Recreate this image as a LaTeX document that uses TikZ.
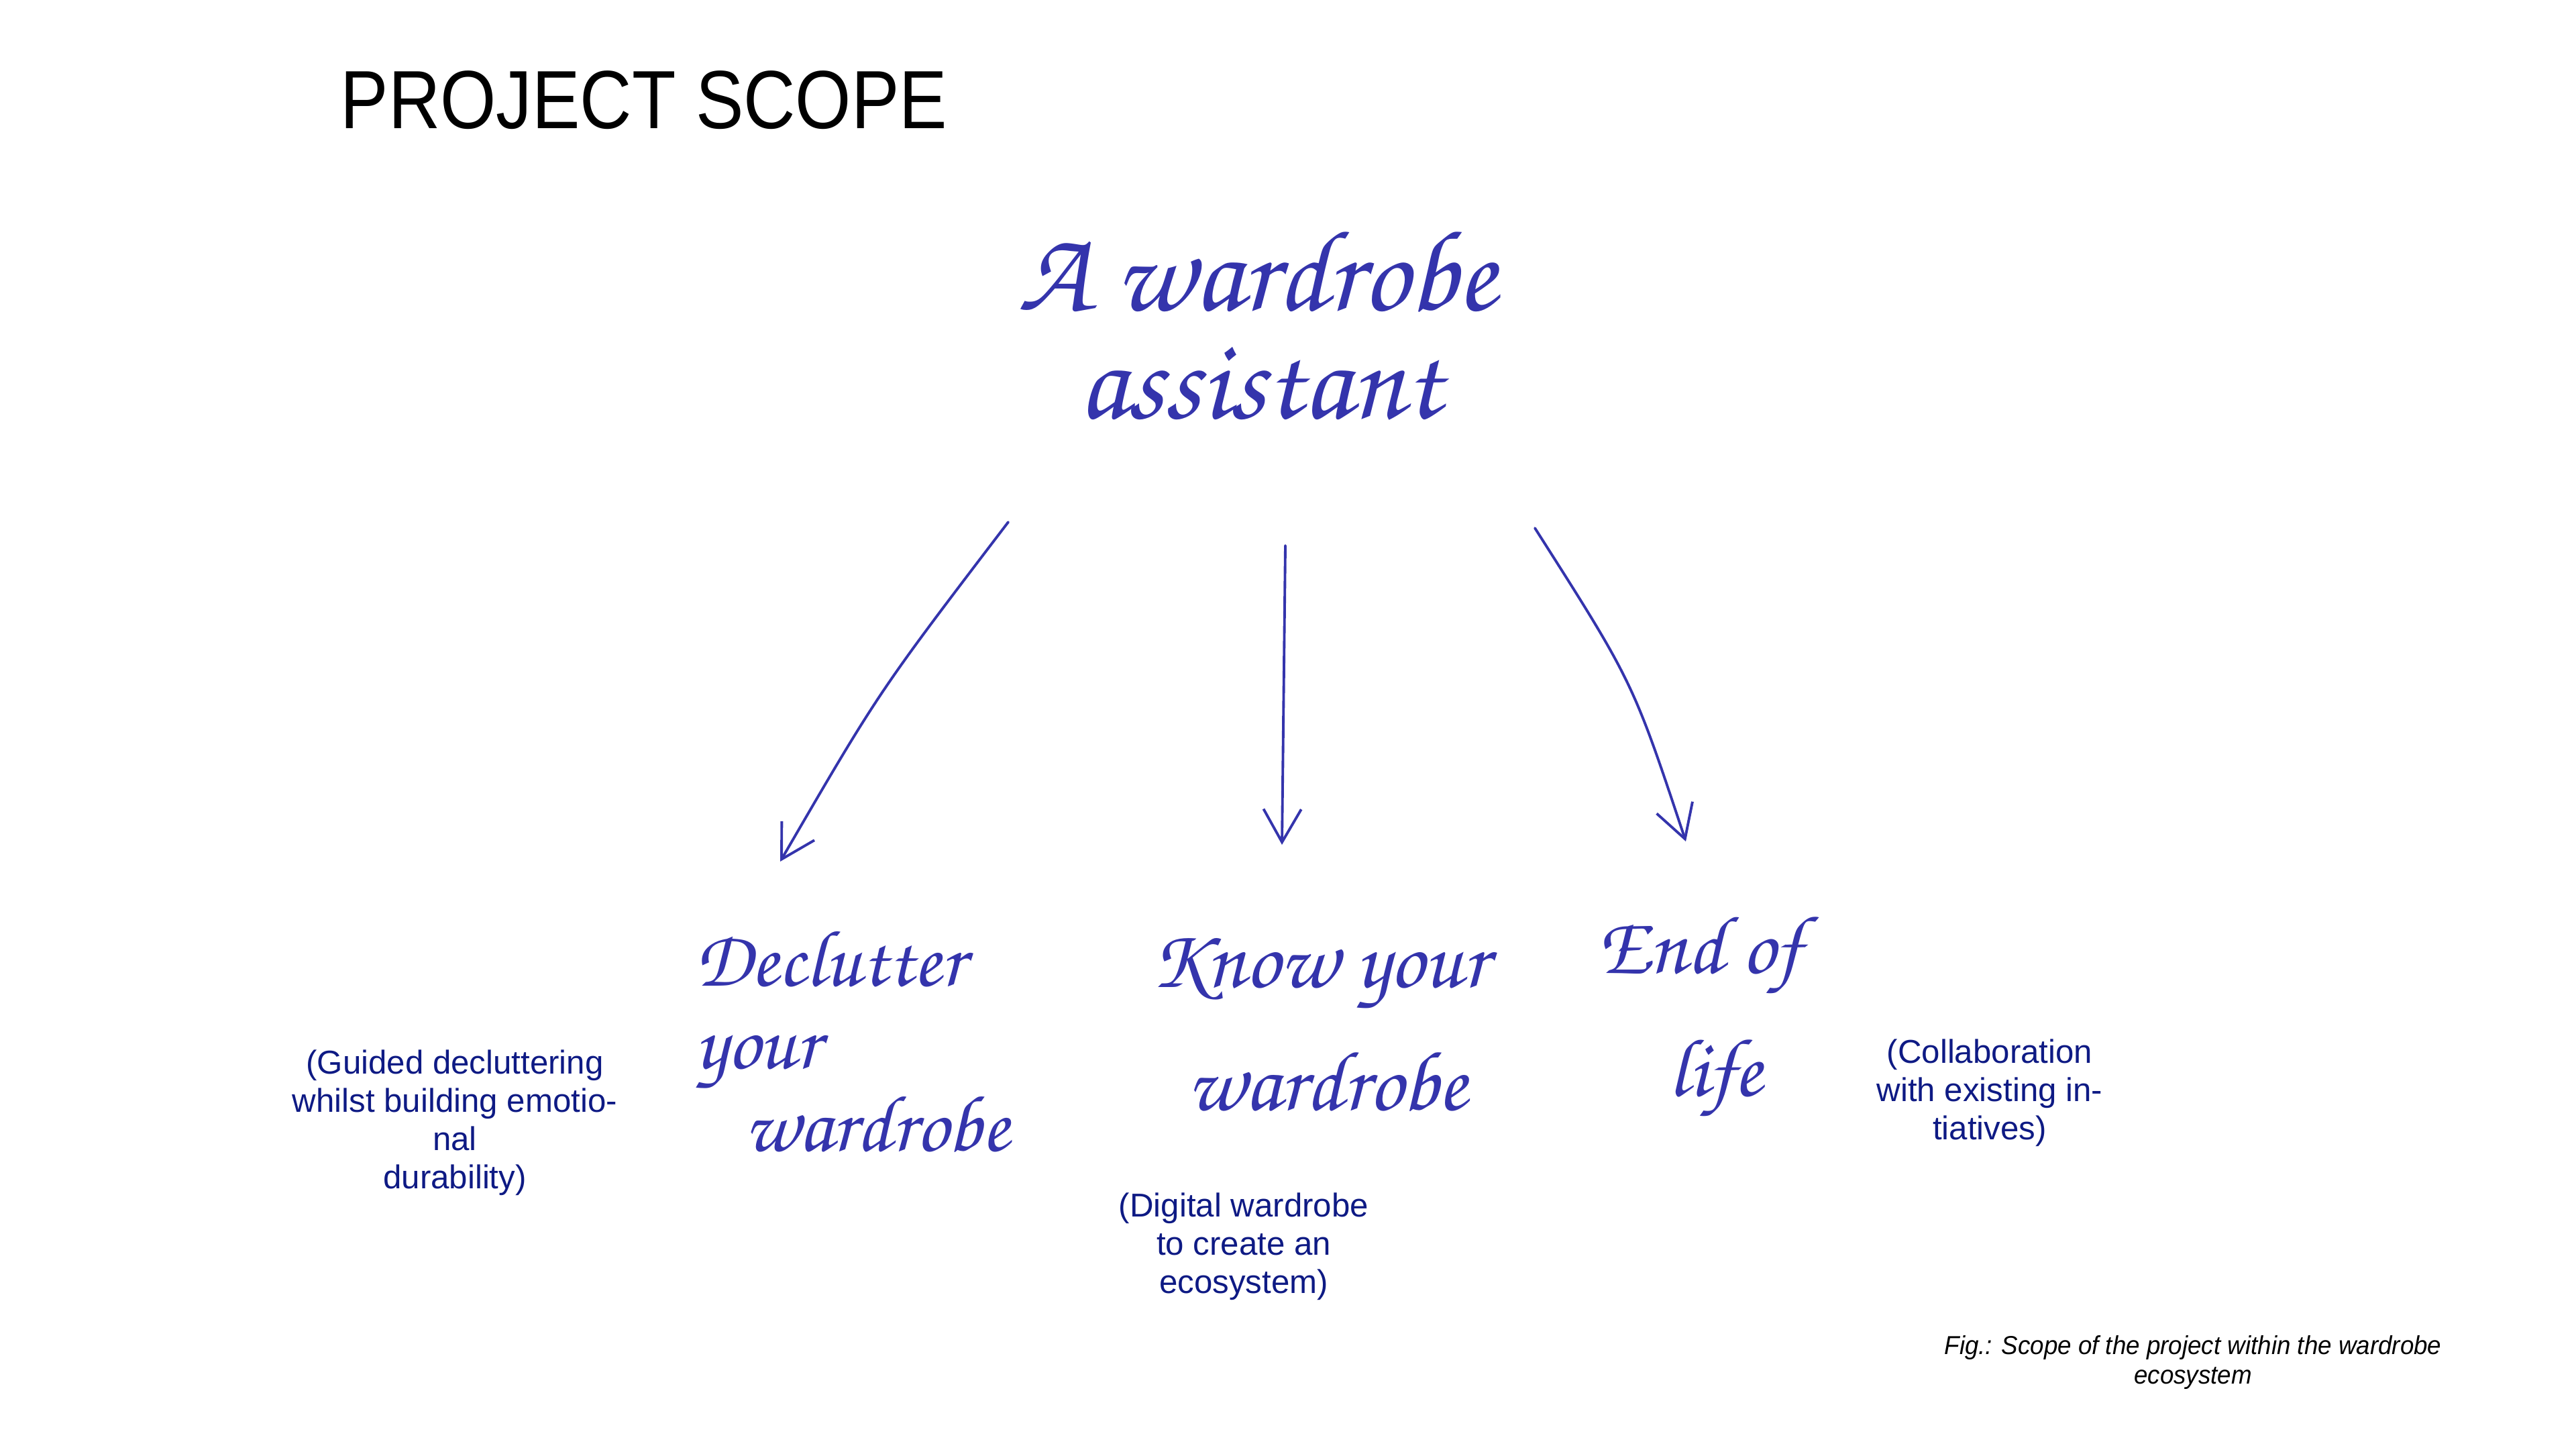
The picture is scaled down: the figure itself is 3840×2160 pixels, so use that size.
\documentclass[tikz,border=0pt]{standalone}
\usepackage[T1]{fontenc}
\usepackage{fontspec}
\usetikzlibrary{arrows.meta}
\setmainfont{Liberation Sans}
\newfontfamily\titlefont[FakeStretch=0.87]{Liberation Sans}
\newfontfamily\capfont{Liberation Sans}
\newfontfamily\figfont[FakeStretch=0.95]{Liberation Sans}
\newcommand\handfont[2]{\fontencoding{T1}\fontfamily{pzc}\fontseries{mb}\fontshape{it}\fontsize{#1}{#2}\selectfont}
\definecolor{inkblue}{HTML}{3434AC}
\definecolor{navy}{HTML}{0E1A84}

\begin{document}
\begin{tikzpicture}[x=0.01cm, y=-0.01cm,
    hand/.style={inkblue, inner sep=0pt, align=left},
    note/.style={navy, inner sep=0pt, align=center, font=\capfont\fontsize{14}{16.2}\selectfont},
    pen/.style={inkblue, line width=1.1pt, line cap=round, -{Straight Barb[length=14pt,width=16pt]}}]
    \useasboundingbox (0,0) rectangle (3840,2160);

    \node[anchor=base west, inner sep=0pt, font=\titlefont\fontsize{35}{35}\selectfont] (title) at (507,191) {PROJECT SCOPE};

    % handwritten labels
    \node[hand, font={\handfont{49}{46}}] (assist) at (1874,483) {A wardrobe\\\hspace*{0.9cm}assistant};
    \node[hand, font={\handfont{34}{35}}] (declutter) at (1270,1551) {Declutter\\your\\\hspace*{0.73cm}wardrobe};
    \node[hand, font={\handfont{36}{52}}] (knowyour) at (1967,1525) {Know your\\\hspace*{0.54cm}wardrobe};
    \node[hand, font={\handfont{35}{52}}] (endlife) at (2534,1517) {End of\\\hspace*{1.05cm}life};

    % notes
    \node[note] (guidedcap) at (678,1673) {(Guided decluttering\\whilst building emotio-\\nal\\durability)};
    \node[note] (digitalcap) at (1854,1858) {(Digital wardrobe\\to create an\\ecosystem)};
    \node[note] (collabcap) at (2966,1629) {(Collaboration\\with existing in-\\tiatives)};
    \node[inner sep=0pt, align=center, font=\figfont\itshape\fontsize{11}{12.5}\selectfont] (figcap) at (3269,2030) {Fig.: Scope of the project within the wardrobe\\ecosystem};

    % arrows
    \coordinate (ls) at (1503,778);
    \coordinate (le) at (1163,1284);
    \coordinate (ms) at (1916,813);
    \coordinate (me) at (1911,1259);
    \coordinate (rs) at (2288,787);
    \coordinate (re) at (2513,1254);
    \draw[pen] (ls) .. controls (1310,1031) .. (le);
    \draw[pen] (ms) -- (me);
    \draw[pen] (rs) .. controls (2434,1016) .. (re);
\end{tikzpicture}
\end{document}
